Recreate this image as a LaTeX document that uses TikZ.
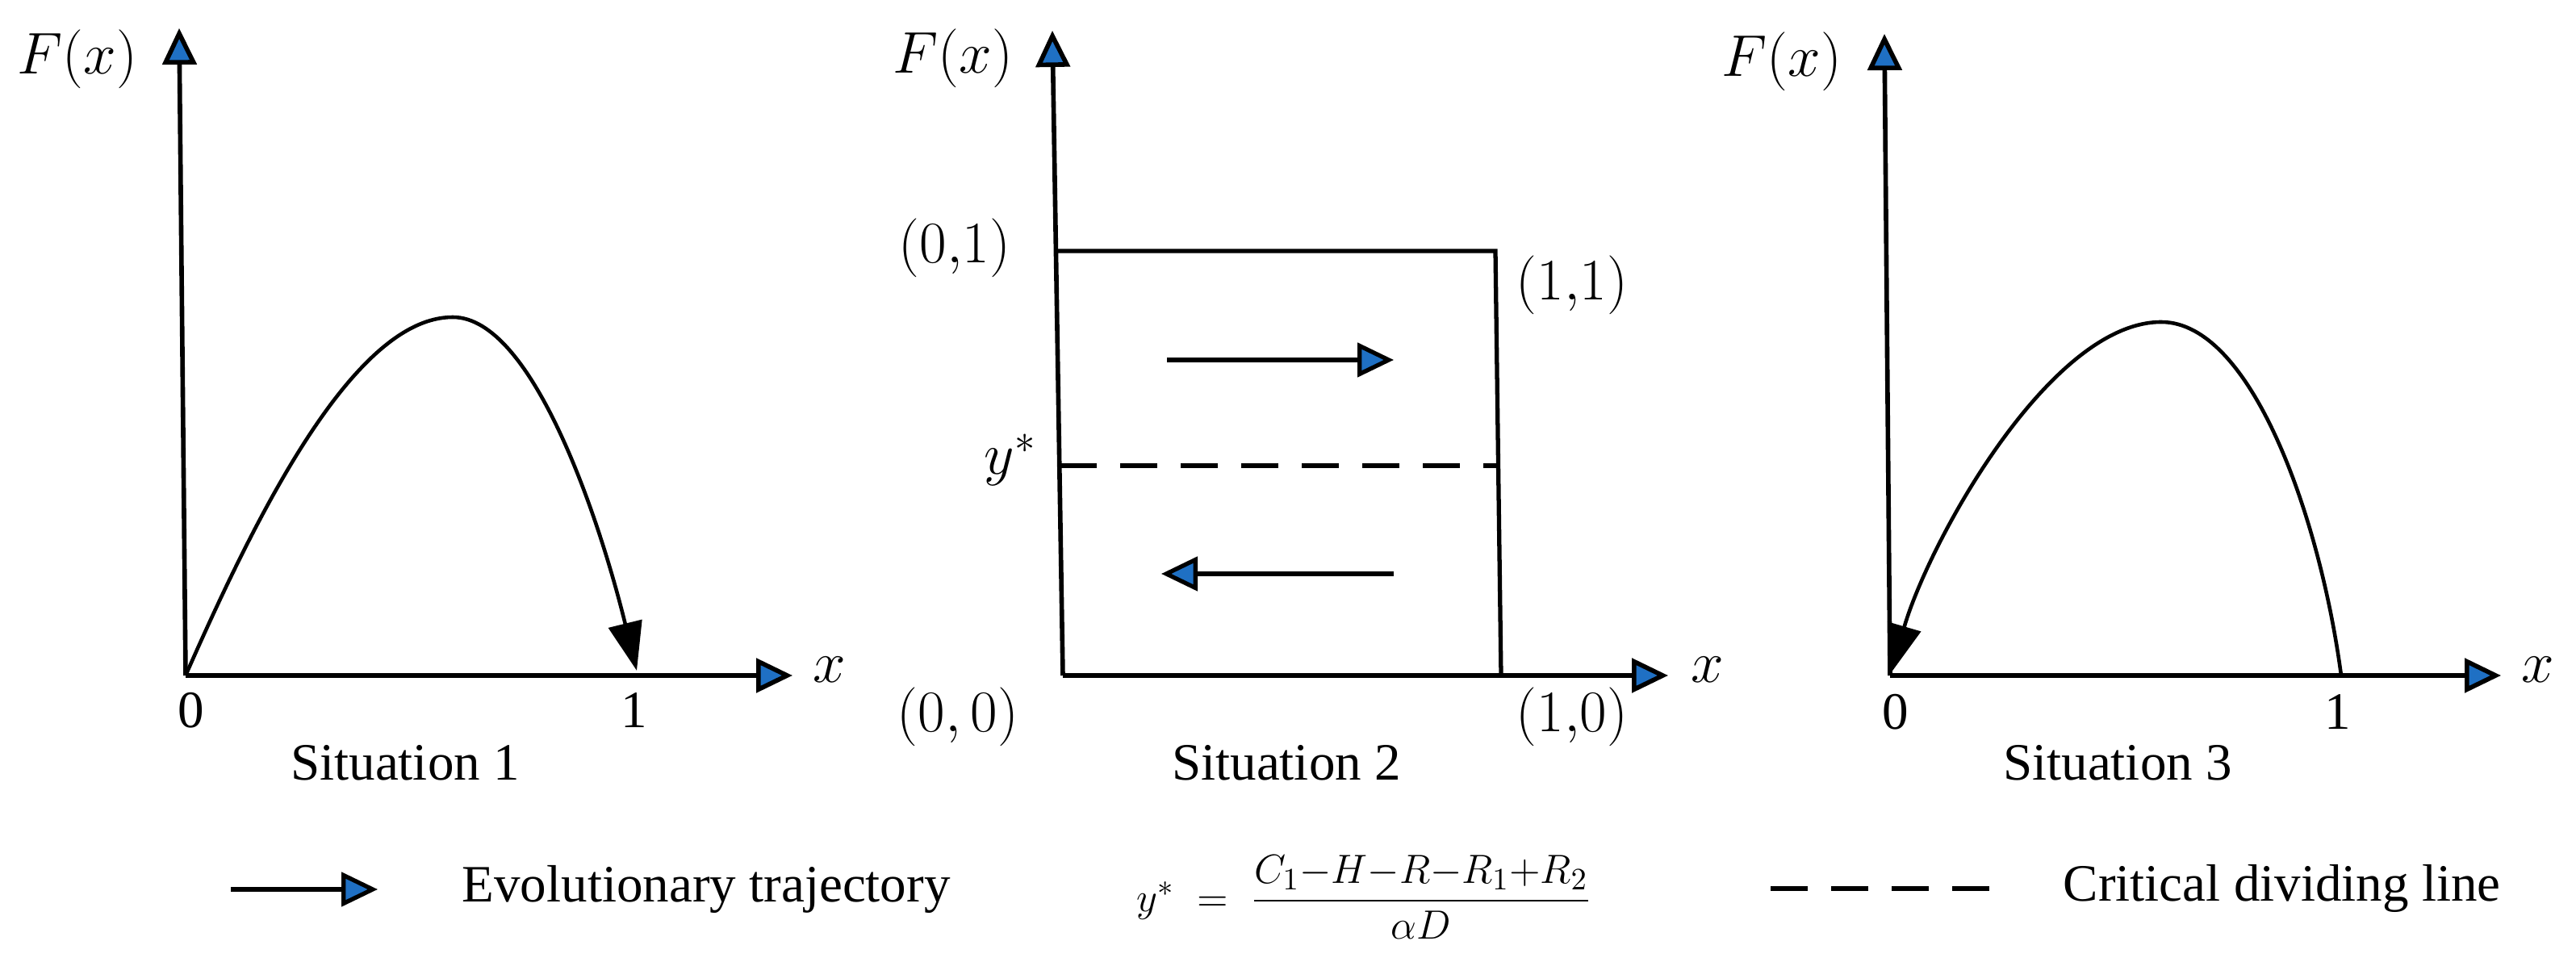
\documentclass[tikz,border=0pt]{standalone}
\usepackage{amsmath}
\usepackage{fontspec}
\setmainfont{Liberation Serif}
\usetikzlibrary{arrows.meta,positioning}
\definecolor{cblue}{HTML}{1F70C4}
\tikzset{
  axis/.style={line width=1.6pt, -{Triangle[length=4.5mm,width=4.2mm,fill=cblue]}},
  traj/.style={line width=1.5pt, -{Triangle[length=4.5mm,width=4.2mm,fill=cblue]}},
  flow/.style={line width=1.3pt, -{Triangle[length=6mm,width=4.2mm,fill=black]}},
  box/.style={line width=1.5pt},
  crit/.style={line width=1.6pt, dash pattern=on 4.6mm off 2.9mm},
  lbl/.style={font=\fontsize{18.5}{22}\selectfont, inner sep=0pt},
  mlbl/.style={font=\fontsize{21}{25}\selectfont, inner sep=0pt},
}
\begin{document}
\begin{tikzpicture}[x=1cm,y=1cm]
\useasboundingbox (0,0) rectangle (31.92,11.92);
% Situation 1
\coordinate (o1) at (2.30,3.55);
\coordinate (y1) at (2.22,11.57);
\coordinate (x1) at (9.82,3.55);
\coordinate (p1) at (5.61,7.99);
\coordinate (e1) at (7.89,3.61);
\draw[axis] (o1) -- (y1);
\draw[axis] (o1) -- (x1);
\node[mlbl] (fx1) at (0.96,11.19) {$F(x)$};
\node[mlbl] (xl1) at (10.28,3.62) {$x$};
\node[lbl] (z1) at (2.37,3.12) {0};
\node[lbl] (u1) at (7.86,3.12) {1};
\draw[flow] (o1) .. controls (3.2,5.6) and (4.4,7.99) .. (p1)
  .. controls (6.6,7.99) and (7.43,5.48) .. (e1);
\node[lbl] (s1) at (5.02,2.47) {Situation 1};
% Situation 2
\coordinate (o2) at (13.17,3.55);
\coordinate (y2) at (13.04,11.54);
\coordinate (x2) at (20.67,3.55);
\coordinate (tl) at (13.10,8.81);
\coordinate (tr) at (18.53,8.81);
\coordinate (br) at (18.60,3.55);
\coordinate (dl) at (13.13,6.15);
\coordinate (dr) at (18.57,6.15);
\draw[axis] (o2) -- (y2);
\draw[axis] (o2) -- (x2);
\draw[box] (tl) -- (tr) -- (br);
\draw[crit] (dl) -- (dr);
\coordinate (ua) at (14.46,7.46); \coordinate (ub) at (17.27,7.46);
\coordinate (la) at (17.27,4.81); \coordinate (lb) at (14.39,4.81);
\draw[traj] (ua) -- (ub);
\draw[traj] (la) -- (lb);
\node[mlbl] (fx2) at (11.81,11.20) {$F(x)$};
\node[mlbl] (xl2) at (21.16,3.62) {$x$};
\node[mlbl] (c01) at (11.83,8.85) {$(0{,}1)$};
\node[mlbl] (c11) at (19.48,8.39) {$(1{,}1)$};
\node[mlbl] (c00) at (11.87,3.04) {$(0,0)$};
\node[mlbl] (c10) at (19.48,3.04) {$(1{,}0)$};
\node[mlbl] (ys) at (12.52,6.22) {$y^{*}$};
\node[lbl] (s2) at (15.94,2.47) {Situation 2};
% Situation 3
\coordinate (o3) at (23.42,3.55);
\coordinate (y3) at (23.35,11.50);
\coordinate (x3) at (30.99,3.55);
\coordinate (b3) at (29.01,3.55);
\coordinate (p3) at (26.78,7.93);
\coordinate (e3) at (23.43,3.58);
\draw[axis] (o3) -- (y3);
\draw[axis] (o3) -- (x3);
\node[mlbl] (fx3) at (22.08,11.16) {$F(x)$};
\node[mlbl] (xl3) at (31.45,3.62) {$x$};
\node[lbl] (z3) at (23.49,3.10) {0};
\node[lbl] (u3) at (28.97,3.10) {1};
\draw[flow] (b3) .. controls (28.75,5.5) and (27.9,7.93) .. (p3)
  .. controls (25.4,7.93) and (23.9,5.2) .. (e3);
\node[lbl] (s3) at (26.24,2.47) {Situation 3};
% legend
\coordinate (la1) at (2.86,0.90); \coordinate (la2) at (4.68,0.90);
\draw[traj] (la1) -- (la2);
\node[lbl, anchor=west] (lt1) at (5.72,0.90) {Evolutionary trajectory};
\node[inner sep=0pt, font=\fontsize{15.5}{18}\selectfont] (frm) at (16.90,0.80)
  {$y^{*}\;=\;\dfrac{C_1{-}H{-}R{-}R_1{+}R_2}{\alpha D}$};
\coordinate (ld1) at (21.94,0.91); \coordinate (ld2) at (24.68,0.91);
\draw[crit] (ld1) -- (ld2);
\node[lbl, anchor=west] (lt2) at (25.56,0.91) {Critical dividing line};
\end{tikzpicture}
\end{document}
